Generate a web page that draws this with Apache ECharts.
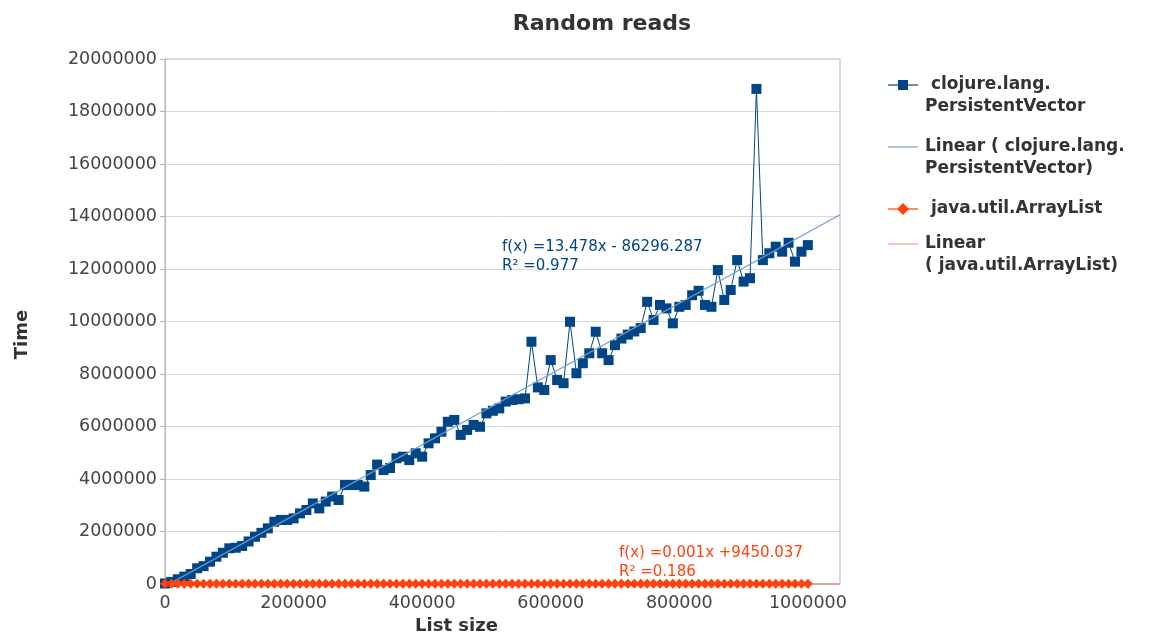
<!DOCTYPE html>
<html>
<head>
<meta charset="utf-8">
<script src="https://cdn.jsdelivr.net/npm/echarts@6/dist/echarts.min.js"></script>
<style>html,body{margin:0;padding:0;background:#fff}#c{width:1150px;height:636px}</style>
</head>
<body>
<div id="c"></div>
<script>
// ---- data ----
const listSizes = [0, 10000, 20000, 30000, 40000, 50000, 60000, 70000, 80000, 90000,
  100000, 110000, 120000, 130000, 140000, 150000, 160000, 170000, 180000, 190000,
  200000, 210000, 220000, 230000, 240000, 250000, 260000, 270000, 280000, 290000,
  300000, 310000, 320000, 330000, 340000, 350000, 360000, 370000, 380000, 390000,
  400000, 410000, 420000, 430000, 440000, 450000, 460000, 470000, 480000, 490000,
  500000, 510000, 520000, 530000, 540000, 550000, 560000, 570000, 580000, 590000,
  600000, 610000, 620000, 630000, 640000, 650000, 660000, 670000, 680000, 690000,
  700000, 710000, 720000, 730000, 740000, 750000, 760000, 770000, 780000, 790000,
  800000, 810000, 820000, 830000, 840000, 850000, 860000, 870000, 880000, 890000,
  900000, 910000, 920000, 930000, 940000, 950000, 960000, 970000, 980000, 990000,
  1000000];

const persistentVectorTimes = [20000, 80000, 180000, 280000, 380000, 600000, 680000, 850000, 1040000, 1190000,
  1360000, 1380000, 1450000, 1620000, 1800000, 1950000, 2120000, 2370000, 2440000, 2440000,
  2500000, 2690000, 2820000, 3070000, 2880000, 3140000, 3330000, 3200000, 3770000, 3770000,
  3770000, 3710000, 4150000, 4550000, 4340000, 4420000, 4790000, 4850000, 4720000, 4980000,
  4850000, 5360000, 5550000, 5800000, 6180000, 6250000, 5680000, 5870000, 6060000, 5990000,
  6500000, 6600000, 6690000, 6950000, 7010000, 7040000, 7070000, 9230000, 7490000, 7390000,
  8530000, 7770000, 7650000, 9990000, 8030000, 8410000, 8790000, 9610000, 8790000, 8530000,
  9100000, 9350000, 9500000, 9620000, 9750000, 10750000, 10060000, 10630000, 10500000, 9930000,
  10560000, 10630000, 11000000, 11170000, 10630000, 10560000, 11960000, 10820000, 11200000, 12340000,
  11520000, 11650000, 18860000, 12340000, 12600000, 12850000, 12660000, 13000000, 12280000, 12660000,
  12910000];

const arrayListTimes = [9120, 9870, 10340, 9560, 9980, 10120, 9450, 9700, 10860, 9330,
  9610, 10050, 9890, 10420, 9270, 9810, 10230, 9540, 10670, 9960,
  9380, 10150, 9720, 10490, 9610, 9930, 10280, 9850, 9470, 10760,
  10040, 9680, 9920, 10350, 9790, 10110, 9560, 10620, 9880, 10230,
  9740, 10010, 10450, 9630, 10190, 9910, 10570, 9820, 10090, 10380,
  9700, 10250, 9960, 10720, 9840, 10130, 10460, 9780, 10320, 10050,
  9890, 10610, 10210, 9970, 10540, 10080, 10390, 9830, 10700, 10160,
  9990, 10480, 10270, 10620, 9940, 10350, 10810, 10060, 10440, 10230,
  10590, 9980, 10710, 10320, 10150, 10530, 10880, 10240, 10660, 10410,
  10120, 10760, 10490, 10930, 10300, 10580, 10840, 10370, 10690, 11020,
  10470];

// trend line coefficients [slope, intercept] as shown in the chart
const pvTrend = [13.478, -86296.287];
const alTrend = [0.001, 9450.037];
const pvR2 = '0.977';
const alR2 = '0.186';

const seriesNames = [' clojure.lang.\nPersistentVector', 'Linear ( clojure.lang.\nPersistentVector)', ' java.util.ArrayList', 'Linear\n( java.util.ArrayList)'];
const yTicks = [0, 20000000, 2000000];
const xTicks = [0, 1050000, 200000];

// ---- chart ----
const BLUE = '#004586', BLUE_T = '#729fcf', ORANGE = '#ff420e', ORANGE_T = '#ff9c85';
const FONT = 'DejaVu Sans';
const xMin = xTicks[0], xMax = xTicks[1];
function trend(c) { return [[xMin, c[0] * xMin + c[1]], [xMax, c[0] * xMax + c[1]]]; }

const chart = echarts.init(document.getElementById('c'), null, {renderer: 'canvas'});

const legendX = 888, legendTextX = 925;
const legendRows = [
  {y: 85, color: BLUE, sym: 'rect', lineColor: BLUE},
  {y: 147, color: null, sym: null, lineColor: BLUE_T},
  {y: 209, color: ORANGE, sym: 'diamond', lineColor: ORANGE},
  {y: 244, color: null, sym: null, lineColor: ORANGE_T}
];
const legendGraphics = [];
legendRows.forEach((r, i) => {
  legendGraphics.push({type: 'line', shape: {x1: legendX, y1: r.y, x2: legendX + 30, y2: r.y}, style: {stroke: r.lineColor, lineWidth: 1.2}});
  if (r.sym === 'rect') legendGraphics.push({type: 'rect', shape: {x: legendX + 10, y: r.y - 5, width: 10, height: 10}, style: {fill: r.color}});
  if (r.sym === 'diamond') legendGraphics.push({type: 'polygon', shape: {points: [[legendX + 15, r.y - 6], [legendX + 21, r.y], [legendX + 15, r.y + 6], [legendX + 9, r.y]]}, style: {fill: r.color}});
  legendGraphics.push({type: 'text', x: legendTextX, y: r.y - 11, style: {text: seriesNames[i], font: 'bold 17px ' + FONT, fill: '#333', lineHeight: 22, textVerticalAlign: 'top'}});
});

const option = {
  animation: false,
  backgroundColor: '#fff',
  title: {
    text: 'Random reads', left: 597, top: 8, textAlign: 'center',
    textStyle: {fontFamily: FONT, fontWeight: 'bold', fontSize: 22, color: '#333'}
  },
  grid: {left: 165, right: 310, top: 59, bottom: 52, show: true, borderColor: '#b3b3b3', borderWidth: 1, containLabel: false, outerBoundsMode: 'none'},
  xAxis: {
    type: 'value', min: xTicks[0], max: xTicks[1], interval: xTicks[2],
    name: 'List size', nameLocation: 'middle', nameGap: 32,
    nameTextStyle: {fontFamily: FONT, fontWeight: 'bold', fontSize: 18, color: '#333', padding: [0, 92, 0, 0]},
    axisLine: {lineStyle: {color: '#b3b3b3'}},
    axisTick: {show: true, length: 5, lineStyle: {color: '#b3b3b3'}},
    axisLabel: {showMaxLabel: false, margin: 10, fontFamily: FONT, fontSize: 17.5, color: '#444', formatter: v => String(v)},
    splitLine: {show: false}
  },
  yAxis: {
    type: 'value', min: yTicks[0], max: yTicks[1], interval: yTicks[2],
    name: 'Time', nameLocation: 'middle', nameGap: 134, nameRotate: 90,
    nameTextStyle: {fontFamily: FONT, fontWeight: 'bold', fontSize: 18, color: '#333', padding: [0, 26, 0, 0]},
    axisLine: {show: true, lineStyle: {color: '#b3b3b3'}},
    axisTick: {show: true, length: 5, lineStyle: {color: '#b3b3b3'}},
    axisLabel: {margin: 8, fontFamily: FONT, fontSize: 17.5, color: '#444', formatter: v => String(v)},
    splitLine: {show: true, lineStyle: {color: '#d9d9d9', width: 1}}
  },
  series: [
    {
      name: seriesNames[0], type: 'line', data: listSizes.map((x, i) => [x, persistentVectorTimes[i]]),
      symbol: 'rect', symbolSize: 10, showAllSymbol: true,
      lineStyle: {color: BLUE, width: 1}, itemStyle: {color: BLUE}, z: 3
    },
    {
      name: seriesNames[1], type: 'line', data: trend(pvTrend), symbol: 'none',
      lineStyle: {color: BLUE_T, width: 1.2}, z: 4
    },
    {
      name: seriesNames[2], type: 'line', data: listSizes.map((x, i) => [x, arrayListTimes[i]]),
      symbol: 'diamond', symbolSize: 10, showAllSymbol: true,
      lineStyle: {color: ORANGE, width: 1}, itemStyle: {color: ORANGE}, z: 5
    },
    {
      name: seriesNames[3], type: 'line', data: trend(alTrend), symbol: 'none',
      lineStyle: {color: ORANGE_T, width: 1.2}, z: 4
    }
  ],
  graphic: legendGraphics.concat([
    {type: 'text', x: 502, y: 238, style: {text: 'f(x) =' + pvTrend[0] + 'x - ' + Math.abs(pvTrend[1]) + '\nR² =' + pvR2, font: '15px ' + FONT, fill: BLUE, lineHeight: 19, textVerticalAlign: 'top'}, z: 10},
    {type: 'text', x: 619, y: 544, style: {text: 'f(x) =' + alTrend[0] + 'x +' + alTrend[1] + '\nR² =' + alR2, font: '15px ' + FONT, fill: ORANGE, lineHeight: 19, textVerticalAlign: 'top'}, z: 10}
  ])
};
chart.setOption(option);
</script>
</body>
</html>
